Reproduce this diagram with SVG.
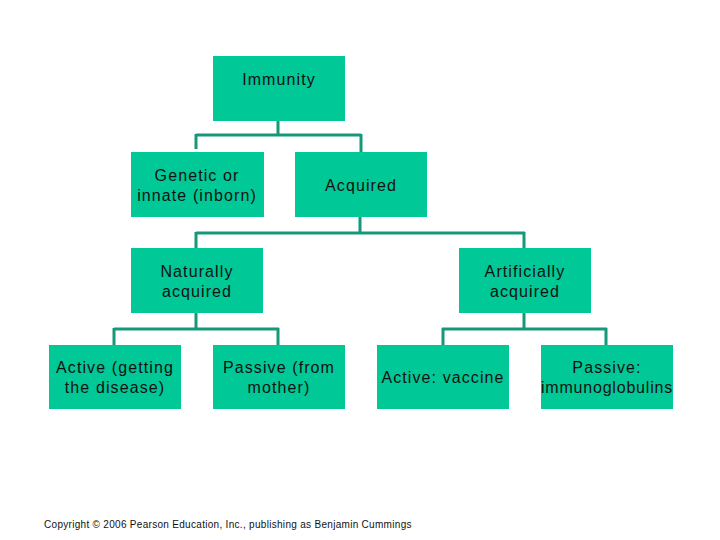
<svg xmlns="http://www.w3.org/2000/svg" width="720" height="540" viewBox="0 0 720 540">
<style>
.box{fill:#00c896;}
.t{font-family:"Liberation Sans",Arial,sans-serif;font-size:16px;fill:#111;text-anchor:middle;letter-spacing:1.1px;}
.c{fill:none;stroke:#15997a;stroke-width:3;}
.copy{font-family:"Liberation Sans",Arial,sans-serif;font-size:10px;fill:#111;letter-spacing:0.3px;}
</style>
<rect width="720" height="540" fill="#fff"/>
<g id="connectors">
<path class="c" d="M278 121V135M196 135H361M196 134V149M361 134V152"/>
<path class="c" d="M360 217V233M196 233H525M196 232V248M524 232V248"/>
<path class="c" d="M196 313V329M114 329H279M114 328V345M278 328V345"/>
<path class="c" d="M524 313V329M442 329H607M443 328V345M606 328V345"/>
</g>
<g id="immunity"><rect class="box" x="213" y="56" width="132" height="65"/><text class="t" x="279" y="85">Immunity</text></g>
<g id="genetic"><rect class="box" x="131" y="152" width="133" height="65"/><text class="t" x="197" y="181">Genetic or</text><text class="t" x="197" y="201">innate (inborn)</text></g>
<g id="acquired"><rect class="box" x="295" y="152" width="132" height="65"/><text class="t" x="361" y="191">Acquired</text></g>
<g id="naturally"><rect class="box" x="131" y="248" width="132" height="65"/><text class="t" x="197" y="277">Naturally</text><text class="t" x="197" y="297">acquired</text></g>
<g id="artificially"><rect class="box" x="459" y="248" width="132" height="65"/><text class="t" x="525" y="277">Artificially</text><text class="t" x="525" y="297">acquired</text></g>
<g id="active-disease"><rect class="box" x="49" y="345" width="132" height="64"/><text class="t" x="115" y="373">Active (getting</text><text class="t" x="115" y="393">the disease)</text></g>
<g id="passive-mother"><rect class="box" x="213" y="345" width="132" height="64"/><text class="t" x="279" y="373">Passive (from</text><text class="t" x="279" y="393">mother)</text></g>
<g id="active-vaccine"><rect class="box" x="377" y="345" width="132" height="64"/><text class="t" x="443" y="383">Active: vaccine</text></g>
<g id="passive-immuno"><rect class="box" x="541" y="345" width="132" height="64"/><text class="t" x="607" y="373">Passive:</text><text class="t" x="607" y="393" style="letter-spacing:0.8px">immunoglobulins</text></g>
<text class="copy" x="44" y="528">Copyright © 2006 Pearson Education, Inc., publishing as Benjamin Cummings</text>
</svg>
